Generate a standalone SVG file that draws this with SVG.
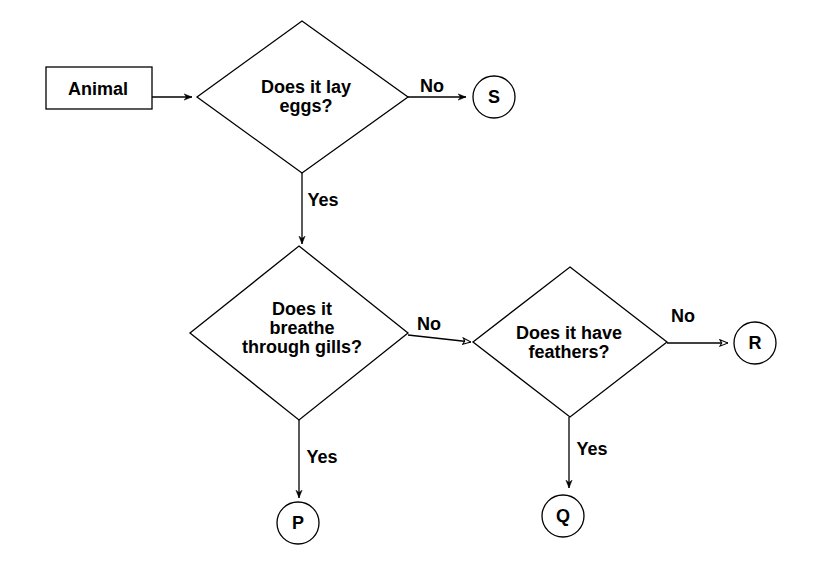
<svg xmlns="http://www.w3.org/2000/svg" width="818" height="577" viewBox="0 0 818 577">
<style>
.shape{fill:#fff;stroke:#000;stroke-width:1.3}
.edge{fill:none;stroke:#000;stroke-width:1.3}
text{font-family:"Liberation Sans",Arial,sans-serif;font-weight:bold;font-size:18px;fill:#000;text-anchor:middle}
</style>
<defs>
<marker id="af" viewBox="0 0 10 10" refX="10" refY="5" markerWidth="8" markerHeight="8" markerUnits="userSpaceOnUse" orient="auto">
<path d="M0,1 L10,5 L0,9 L3,5 Z" fill="#000" stroke="#000" stroke-width="0.5"/>
</marker>
<marker id="ao" viewBox="0 0 10 10" refX="10" refY="5" markerWidth="9" markerHeight="9" markerUnits="userSpaceOnUse" orient="auto">
<path d="M1,1.5 L10,5 L1,8.5 L3,5 Z" fill="#fff" stroke="#000" stroke-width="1.2"/>
</marker>
</defs>
<rect width="818" height="577" fill="#fff"/>
<g id="connectors">
<line class="edge" x1="152" y1="97" x2="192" y2="97" marker-end="url(#af)"/>
<line class="edge" x1="408" y1="97" x2="466" y2="97" marker-end="url(#af)"/>
<line class="edge" x1="302" y1="173" x2="302" y2="244" marker-end="url(#af)"/>
<line class="edge" x1="408" y1="335" x2="471" y2="342" marker-end="url(#ao)"/>
<line class="edge" x1="667" y1="343" x2="728" y2="343" marker-end="url(#ao)"/>
<line class="edge" x1="299" y1="420" x2="299" y2="498" marker-end="url(#af)"/>
<line class="edge" x1="569" y1="417" x2="569" y2="488" marker-end="url(#af)"/>
<text x="432" y="92">No</text>
<text x="323" y="206">Yes</text>
<text x="429" y="330">No</text>
<text x="683" y="322">No</text>
<text x="322" y="463">Yes</text>
<text x="592" y="455">Yes</text>
</g>
<g id="animal">
<rect class="shape" x="46" y="67" width="106" height="42"/>
<text x="98" y="95">Animal</text>
</g>
<g id="d1">
<polygon class="shape" points="302,21 408,97 302,173 197,97"/>
<text x="306" y="93">Does it lay</text>
<text x="306" y="112">eggs?</text>
</g>
<g id="d2">
<polygon class="shape" points="299,246 408,333 299,420 190,333"/>
<text x="302" y="315">Does it</text>
<text x="302" y="334">breathe</text>
<text x="302" y="353">through gills?</text>
</g>
<g id="d3">
<polygon class="shape" points="570,267 667,342 570,417 473,342"/>
<text x="569" y="339">Does it have</text>
<text x="569" y="358">feathers?</text>
</g>
<g id="S">
<circle class="shape" cx="494" cy="97" r="21"/>
<text x="494" y="103" font-size="16">S</text>
</g>
<g id="R">
<circle class="shape" cx="755" cy="343" r="21"/>
<text x="755" y="349" font-size="16">R</text>
</g>
<g id="P">
<circle class="shape" cx="298" cy="523" r="21"/>
<text x="298" y="529" font-size="16">P</text>
</g>
<g id="Q">
<circle class="shape" cx="563" cy="516" r="21"/>
<text x="563" y="522" font-size="16">Q</text>
</g>
</svg>
